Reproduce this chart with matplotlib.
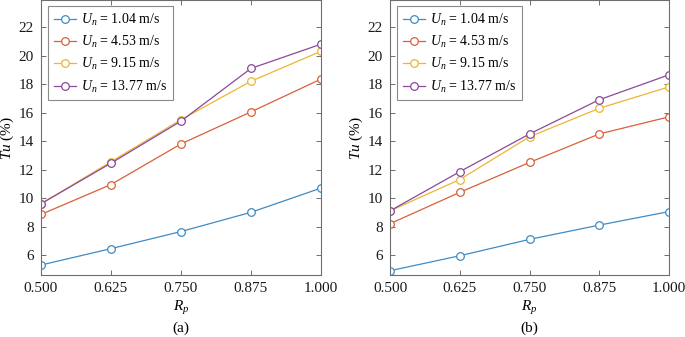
import matplotlib
matplotlib.use("Agg")
import matplotlib.pyplot as plt

plt.rcParams['font.family'] = ['Liberation Serif', 'DejaVu Serif']
plt.rcParams['mathtext.fontset'] = 'custom'
plt.rcParams['mathtext.rm'] = 'Liberation Serif'
plt.rcParams['mathtext.it'] = 'Liberation Serif:italic'

rp = [0.500, 0.625, 0.750, 0.875, 1.000]
xtick_labels = ['0.500', '0.625', '0.750', '0.875', '1.000']
series_labels = [r'$U_n$ = 1.04 m/s', r'$U_n$ = 4.53 m/s',
                 r'$U_n$ = 9.15 m/s', r'$U_n$ = 13.77 m/s']

tu_a_104 = [5.3, 6.45, 7.65, 9.0, 10.7]
tu_a_453 = [8.85, 10.95, 13.8, 16.05, 18.35]
tu_a_915 = [9.6, 12.55, 15.5, 18.2, 20.3]
tu_a_1377 = [9.6, 12.45, 15.4, 19.1, 20.8]

tu_b_104 = [4.9, 5.95, 7.1, 8.1, 9.05]
tu_b_453 = [8.2, 10.4, 12.5, 14.5, 15.7]
tu_b_915 = [9.1, 11.3, 14.3, 16.3, 17.8]
tu_b_1377 = [9.1, 11.85, 14.5, 16.9, 18.65]

colors = ['#3f8cc4', '#d9603a', '#ecb632', '#8a4a98']
frame = '#6e6e6e'

fig = plt.figure(figsize=(6.85, 3.37), dpi=100)
ax_a = fig.add_axes([41/685, 1-275/337, 280/685, 275/337])
ax_b = fig.add_axes([390/685, 1-275/337, 279/685, 275/337])

panels = [(ax_a, [tu_a_104, tu_a_453, tu_a_915, tu_a_1377], '(a)'),
          (ax_b, [tu_b_104, tu_b_453, tu_b_915, tu_b_1377], '(b)')]

for ax, data, tag in panels:
    for vals, c, lab in zip(data, colors, series_labels):
        ax.plot(rp, vals, color=c, lw=0.9, marker='o', ms=5.5,
                mfc='white', mec=c, mew=0.9, label=lab)
    ax.set_xlim(0.5, 1.0)
    ax.set_ylim(4.6, 23.9)
    ax.set_xticks(rp)
    ax.set_xticklabels(xtick_labels)
    ax.set_yticks([6, 8, 10, 12, 14, 16, 18, 20, 22])
    ax.tick_params(direction='in', top=True, right=True, labelsize=11,
                   color=frame, labelcolor='#1a1a1a', length=3.5,
                   width=0.7, pad=5)
    for s in ax.spines.values():
        s.set_color(frame)
        s.set_linewidth(0.8)
    ax.set_xlabel(r'$R_p$', fontsize=11, labelpad=3)
    ax.set_ylabel(r'$Tu$ (%)', fontsize=11, labelpad=2)
    ax.text(0.5, -0.193, tag, transform=ax.transAxes, ha='center',
            va='center', fontsize=11)
    leg = ax.legend(loc='upper left', fontsize=10, frameon=True,
                    fancybox=False, edgecolor=frame, borderpad=0.4,
                    labelspacing=0.45, handlelength=1.6,
                    handletextpad=0.4, borderaxespad=0.0,
                    bbox_to_anchor=(7/280, 1-6/275))
    leg.get_frame().set_linewidth(0.8)

fig.savefig('out.png', dpi=100)
